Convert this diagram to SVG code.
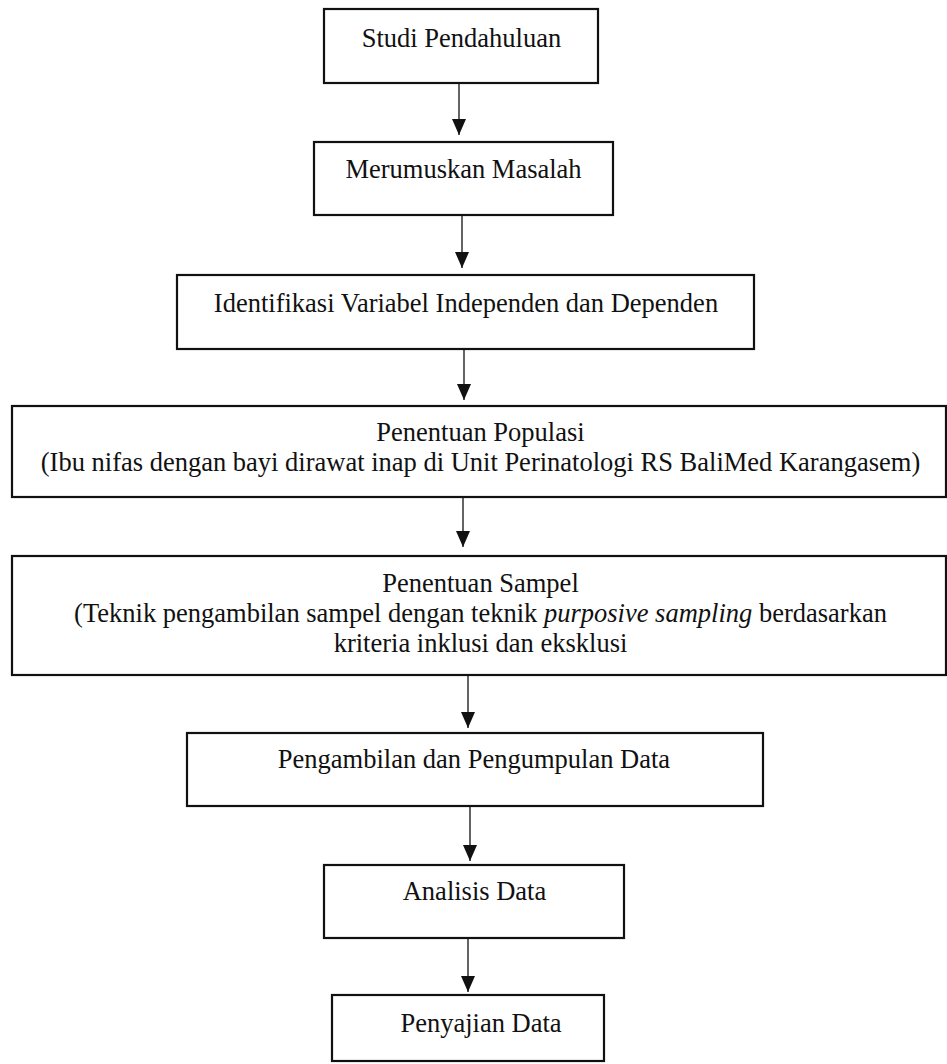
<svg xmlns="http://www.w3.org/2000/svg" width="947" height="1064" viewBox="0 0 947 1064">
<defs>
<style>
.box{fill:#fff;stroke:#111;stroke-width:2.2}
.t{font-family:"Liberation Serif","Times New Roman",serif;font-size:26.5px;fill:#111;text-anchor:middle}
.c{stroke:#111;stroke-width:1.3;fill:none}
</style>
<marker id="ah" markerUnits="userSpaceOnUse" markerWidth="16" markerHeight="14" viewBox="0 0 16 14" refX="16" refY="7" orient="auto">
<path d="M0,0 L16,7 L0,14 Z" fill="#111"/>
</marker>
</defs>
<rect width="947" height="1064" fill="#fff"/>
<g id="connectors">
<line class="c" x1="459" y1="83" x2="459" y2="135" marker-end="url(#ah)"/>
<line class="c" x1="462" y1="215" x2="462" y2="268" marker-end="url(#ah)"/>
<line class="c" x1="464" y1="349" x2="464" y2="400" marker-end="url(#ah)"/>
<line class="c" x1="463" y1="497" x2="463" y2="547" marker-end="url(#ah)"/>
<line class="c" x1="468" y1="675" x2="468" y2="728" marker-end="url(#ah)"/>
<line class="c" x1="470" y1="806" x2="470" y2="861" marker-end="url(#ah)"/>
<line class="c" x1="468" y1="938" x2="468" y2="992" marker-end="url(#ah)"/>
</g>
<g id="n1"><rect class="box" x="324" y="9" width="274" height="74"/><text class="t" x="461.5" y="47">Studi Pendahuluan</text></g>
<g id="n2"><rect class="box" x="314" y="142" width="299" height="73"/><text class="t" x="463.5" y="178">Merumuskan Masalah</text></g>
<g id="n3"><rect class="box" x="177" y="275" width="577" height="74"/><text class="t" x="466" y="312">Identifikasi Variabel Independen dan Dependen</text></g>
<g id="n4"><rect class="box" x="12" y="406" width="934" height="91"/><text class="t" x="480.5" y="441">Penentuan Populasi</text><text class="t" x="480.5" y="471">(Ibu nifas dengan bayi dirawat inap di Unit Perinatologi RS BaliMed Karangasem)</text></g>
<g id="n5"><rect class="box" x="12" y="556" width="934" height="119"/><text class="t" x="480.5" y="592">Penentuan Sampel</text><text class="t" x="480.5" y="622">(Teknik pengambilan sampel dengan teknik <tspan font-style="italic">purposive sampling</tspan> berdasarkan</text><text class="t" x="480.5" y="652">kriteria inklusi dan eksklusi</text></g>
<g id="n6"><rect class="box" x="187" y="733" width="576" height="73"/><text class="t" x="474" y="768">Pengambilan dan Pengumpulan Data</text></g>
<g id="n7"><rect class="box" x="324" y="865" width="300" height="73"/><text class="t" x="474.5" y="900">Analisis Data</text></g>
<g id="n8"><rect class="box" x="332" y="995" width="272" height="66"/><text class="t" x="481" y="1032">Penyajian Data</text></g>
</svg>
